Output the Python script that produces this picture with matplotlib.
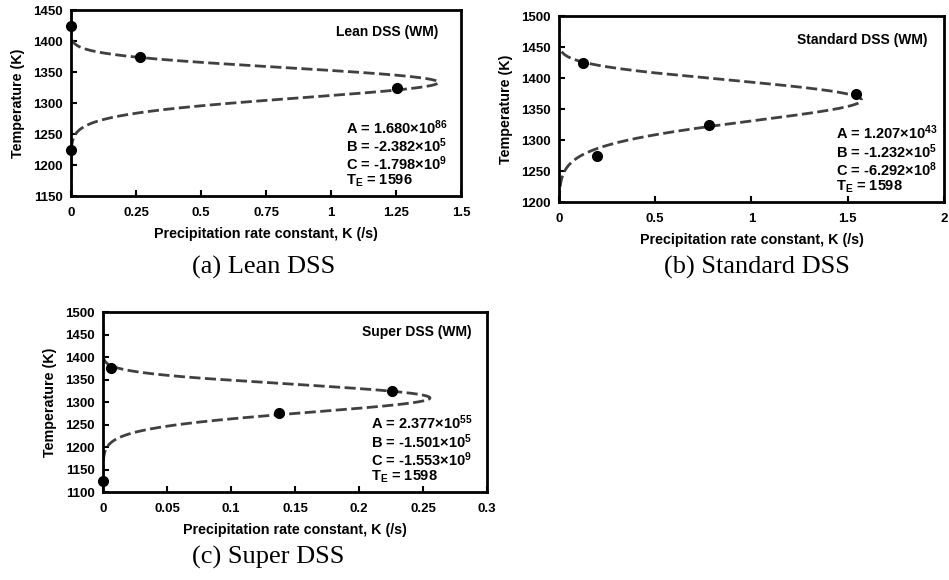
import numpy as np
import matplotlib
matplotlib.use("Agg")
import matplotlib.pyplot as plt
from matplotlib.ticker import FuncFormatter

plt.rcParams['font.family'] = ['Liberation Sans', 'DejaVu Sans']
plt.rcParams['font.weight'] = 'bold'
plt.rcParams['mathtext.fontset'] = 'custom'
plt.rcParams['mathtext.rm'] = 'Liberation Sans:bold'
plt.rcParams['mathtext.bf'] = 'Liberation Sans:bold'
plt.rcParams['mathtext.default'] = 'bf'

# fitted parameters shown on the chart: K = A exp(B/T) exp(C / (T (TE - T)^2))
lean_params = [1.680e86, -2.382e5, -1.798e9, 1596]
standard_params = [1.207e43, -1.232e5, -6.292e8, 1598]
super_params = [2.377e55, -1.501e5, -1.553e9, 1598]

# measured points (K, T)
lean_k = [0.0, 0.265, 1.255, 0.0]
lean_t = [1425, 1375, 1325, 1225]
standard_k = [0.125, 1.545, 0.78, 0.2]
standard_t = [1425, 1375, 1325, 1275]
super_k = [0.0065, 0.226, 0.1375, 0.0]
super_t = [1375, 1325, 1275, 1125]

lean_text = ["A = 1.680×10$^{86}$", "B = -2.382×10$^{5}$", "C = -1.798×10$^{9}$", "T$_{E}$ = 1596"]
standard_text = ["A = 1.207×10$^{43}$", "B = -1.232×10$^{5}$", "C = -6.292×10$^{8}$", "T$_{E}$ = 1598"]
super_text = ["A = 2.377×10$^{55}$", "B = -1.501×10$^{5}$", "C = -1.553×10$^{9}$", "T$_{E}$ = 1598"]


def rate(params, temps):
    a, b, c, te = params
    return np.exp(np.log(a) + b / temps + c / (temps * (te - temps) ** 2))


def panel(ax, params, pk, pt, title, lines, xlim, xstep, ylim, text_x, text_top, title_xy):
    temps = np.linspace(ylim[0], ylim[1], 2000)
    ax.plot(rate(params, temps), temps, color='#404040', lw=2.0, dashes=(4, 1.6), zorder=2)
    ax.plot(pk, pt, 'o', color='black', ms=7, clip_on=False, zorder=3)

    ax.set_xlim(xlim)
    ax.set_ylim(ylim)
    ax.set_xticks(np.arange(xlim[0], xlim[1] + xstep / 2, xstep))
    ax.set_yticks(np.arange(ylim[0], ylim[1] + 1, 50))
    ax.xaxis.set_major_formatter(FuncFormatter(lambda v, p: '%g' % round(v, 3)))
    ax.tick_params(direction='in', length=4, width=1.5, labelsize=9.5, pad=8)
    ax.tick_params(axis='y', pad=6)
    for s in ax.spines.values():
        s.set_linewidth(2)
    ax.set_xlabel('Precipitation rate constant, K (/s)', fontsize=10.3, fontweight='bold', labelpad=6)
    ax.set_ylabel('Temperature (K)', fontsize=10.3, fontweight='bold', labelpad=6)

    ax.text(title_xy[0], title_xy[1], title, transform=ax.transAxes, ha='right', va='center',
            fontsize=10, fontweight='bold')
    ax.text(text_x, text_top, '\n'.join(lines), transform=ax.transAxes, ha='left', va='top',
            fontsize=10.5, fontweight='bold', linespacing=0.97)


fig = plt.figure(figsize=(9.49, 5.80), dpi=100)

ax1 = fig.add_axes([0.0748, 0.662, 0.411, 0.3207])
panel(ax1, lean_params, lean_k, lean_t, 'Lean DSS (WM)', lean_text,
      (0, 1.5), 0.25, (1150, 1450), 0.705, 0.42, (0.941, 0.882))

ax2 = fig.add_axes([0.589, 0.6517, 0.4057, 0.3207])
panel(ax2, standard_params, standard_k, standard_t, 'Standard DSS (WM)', standard_text,
      (0, 2), 0.5, (1200, 1500), 0.72, 0.42, (0.956, 0.871))

ax3 = fig.add_axes([0.1085, 0.1517, 0.4046, 0.310])
panel(ax3, super_params, super_k, super_t, 'Super DSS (WM)', super_text,
      (0, 0.3), 0.05, (1100, 1500), 0.698, 0.435, (0.96, 0.889))

cap = dict(ha='center', va='center', fontsize=19, family='Liberation Serif', fontweight='normal')
fig.text(0.278, 0.5397, '(a) Lean DSS', **cap)
fig.text(0.7977, 0.5397, '(b) Standard DSS', **cap)
fig.text(0.2824, 0.0397, '(c) Super DSS', **cap)

fig.savefig('out.png', dpi=100)
